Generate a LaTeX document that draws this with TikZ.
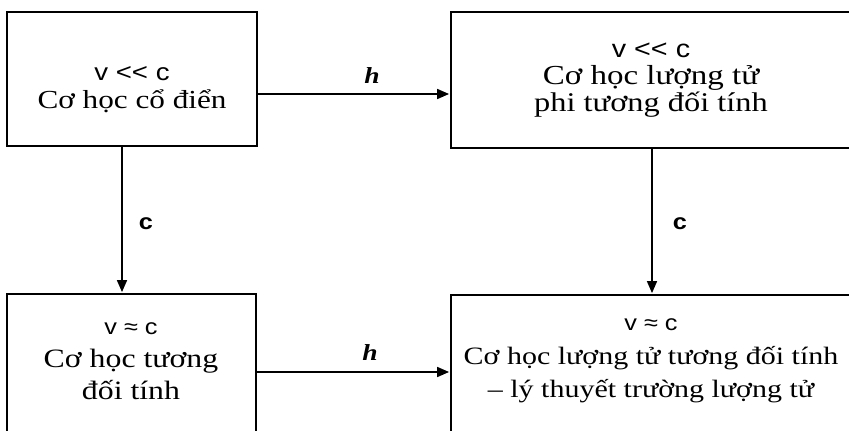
\documentclass[tikz,border=0pt]{standalone}
\usepackage{fontspec}
\setmainfont{Liberation Serif}[FakeStretch=1.2]
\newfontfamily\sansv{Liberation Sans}[FakeStretch=1.15]
\usetikzlibrary{arrows.meta}
\begin{document}
\begin{tikzpicture}[x=1pt,y=-1pt,
  box/.style={draw, line width=1.8pt, rectangle, inner sep=0pt},
  arr/.style={line width=1.6pt, -{Triangle[length=12pt,width=10pt]}, shorten >=1pt},
  txt/.style={anchor=base, inner sep=0pt, font=\fontsize{25}{30}\selectfont},
  rel/.style={anchor=base, inner sep=0pt, font=\sansv\fontsize{22}{26}\selectfont},
  hlab/.style={anchor=base, inner sep=0pt, font=\fontsize{23}{27}\selectfont\bfseries\itshape},
  clab/.style={anchor=base, inner sep=0pt, font=\sansv\fontsize{22}{26}\selectfont\bfseries}]
\useasboundingbox (0,0) rectangle (849,431);
\clip (0,0) rectangle (849,431);
% boxes
\node[box, minimum width=250pt, minimum height=134pt] (A) at (132,79) {};
\node[box, minimum width=409pt, minimum height=136pt] (B) at (655.5,80) {};
\node[box, minimum width=249pt, minimum height=151pt] (C) at (131.5,369.5) {};
\node[box, minimum width=409pt, minimum height=150pt] (D) at (655.5,370) {};
% texts
\node[rel, font=\sansv\fontsize{24}{28}\selectfont] (a1) at (132,80) {v << c};
\node[txt, font=\fontsize{26}{31}\selectfont] (a2) at (132,108) {Cơ học cổ điển};
\node[rel, font=\sansv\fontsize{25}{30}\selectfont] (b1) at (651,57) {v << c};
\node[txt, font=\fontsize{27.5}{33}\selectfont] (b2) at (651,84) {Cơ học lượng tử};
\node[txt, font=\fontsize{27}{33}\selectfont] (b3) at (651,111) {phi tương đối tính};
\node[rel] (c1) at (131,334) {v ≈ c};
\node[txt, font=\fontsize{26.5}{31}\selectfont] (c2) at (131,367) {Cơ học tương};
\node[txt, font=\fontsize{26.5}{31}\selectfont] (c3) at (131,399) {đối tính};
\node[rel] (d1) at (651,330) {v ≈ c};
\node[txt] (d2) at (651,364) {Cơ học lượng tử tương đối tính};
\node[txt] (d3) at (651,397) {– lý thuyết trường lượng tử};
% connectors
\coordinate (p1) at ([yshift=-15pt]A.east);
\draw[arr] (p1) -- (p1 -| B.west);
\coordinate (p2) at ([xshift=-10pt]A.south);
\draw[arr] (p2) -- (p2 |- C.north);
\coordinate (p3) at ([xshift=-3.5pt]B.south);
\draw[arr] (p3) -- (p3 |- D.north);
\coordinate (p4) at ([yshift=-2.5pt]C.east);
\draw[arr] (p4) -- (p4 -| D.west);
% labels
\node[hlab] (h1) at (372,83) {h};
\node[hlab] (h2) at (370,360) {h};
\node[clab] (cl1) at (146,229) {c};
\node[clab] (cl2) at (680,229) {c};
\end{tikzpicture}
\end{document}
